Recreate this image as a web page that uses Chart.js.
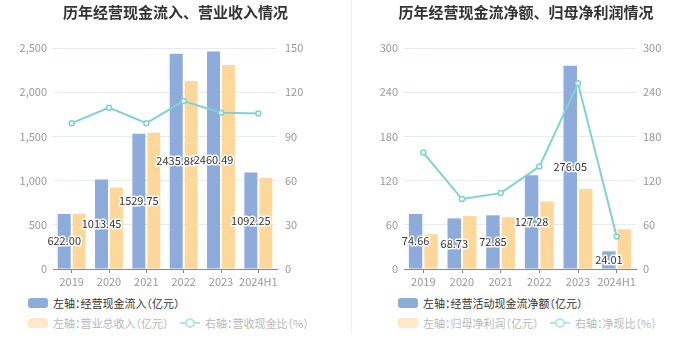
<!DOCTYPE html>
<html>
<head>
<meta charset="utf-8">
<script src="https://cdn.jsdelivr.net/npm/chart.js@4.4.1/dist/chart.umd.min.js"></script>
<style>
    body { margin: 0; background: #fff; font-family: 'Noto Sans CJK SC', 'Noto Sans', sans-serif; }
    #wrap { position: relative; width: 700px; height: 359px; overflow: hidden; }
    canvas { position: absolute; top: 0; }
    #c1 { left: 0; }
    #c2 { left: 352px; }
    .divider { position: absolute; left: 351px; top: 0; width: 1px; height: 333px; background: #eeeeee; }
    .lg { position: absolute; height: 14px; line-height: 14px; font-size: 11px; color: #333; white-space: nowrap; font-feature-settings: "halt"; }
    .lg.off { color: #b8b8b8; }
    .sw { position: absolute; width: 20px; height: 10px; border-radius: 3px; }
    .ln { position: absolute; width: 20px; height: 2px; }
    .dot { position: absolute; width: 6px; height: 6px; border-radius: 50%; background: #fff; border: 2px solid; }
</style>
</head>
<body>
<div id="wrap">
    <canvas id="c1" width="351" height="295"></canvas>
    <canvas id="c2" width="348" height="295"></canvas>
    <div class="divider"></div>
    <div id="legends"></div>
</div>
<script>
const years = ['2019', '2020', '2021', '2022', '2023', '2024H1'];

// 左图
const cashInflow = [622.00, 1013.45, 1529.75, 2435.88, 2460.49, 1092.25];
const revenue = [625, 921, 1540, 2128, 2309, 1030];
const cashRevRatio = [99, 109.5, 99, 114, 106, 105.5];

// 右图
const netCashFlow = [74.66, 68.73, 72.85, 127.28, 276.05, 24.01];
const netProfit = [47.2, 72, 70.3, 91.5, 108.7, 54];
const netCashRatio = [158, 95, 103, 139, 252, 44];

const BLUE = '#8dabdb';
const ORANGE = '#ffd899';
const TEAL = '#7dd3d3';

Chart.defaults.font.family = "'Noto Sans CJK SC', 'Noto Sans', sans-serif";
Chart.defaults.font.size = 11;
Chart.defaults.color = '#999';

// 蓝色柱子中间的数值
const barLabels = {
    id: 'barLabels',
    afterDatasetsDraw(chart) {
        const meta = chart.getDatasetMeta(1);
        const c = chart.ctx;
        c.save();
        c.font = "11px 'Noto Sans CJK SC', 'Noto Sans', sans-serif";
        c.textAlign = 'center';
        c.textBaseline = 'middle';
        c.lineJoin = 'round';
        meta.data.forEach((bar, i) => {
            const txt = chart.data.datasets[1].data[i].toFixed(2);
            const y = (bar.y + bar.base) / 2;
            c.lineWidth = 3;
            c.strokeStyle = '#fff';
            c.strokeText(txt, bar.x, y);
            c.fillStyle = '#333';
            c.fillText(txt, bar.x, y);
        });
        c.restore();
    }
};

function makeChart(id, title, bars1, bars2, line, yMax, yStep, y1Max, y1Step, dims) {
    return new Chart(document.getElementById(id), {
        type: 'bar',
        data: {
            labels: years,
            datasets: [
                {
                    type: 'line',
                    data: line,
                    yAxisID: 'y1',
                    borderColor: TEAL,
                    borderWidth: 2,
                    pointRadius: 2.5,
                    pointBorderWidth: 1.5,
                    pointBackgroundColor: '#fff',
                    pointBorderColor: TEAL,
                    tension: 0
                },
                {
                    data: bars1,
                    yAxisID: 'y',
                    backgroundColor: BLUE,
                    categoryPercentage: 0.8,
                    barPercentage: 0.87
                },
                {
                    data: bars2,
                    yAxisID: 'y',
                    backgroundColor: ORANGE,
                    categoryPercentage: 0.8,
                    barPercentage: 0.87
                }
            ]
        },
        options: {
            responsive: false,
            animation: false,
            layout: { padding: 0 },
            plugins: {
                legend: { display: false },
                tooltip: { enabled: false },
                title: {
                    display: true,
                    text: title,
                    color: '#333',
                    font: { size: 15, weight: 'bold' },
                    padding: { top: 3, bottom: 27 }
                }
            },
            scales: {
                x: {
                    grid: { display: true, drawOnChartArea: false, drawTicks: true, tickLength: 4, color: '#888', offset: false },
                    border: { display: true, color: '#888' },
                    ticks: { padding: 2, color: '#999', maxRotation: 0, minRotation: 0, autoSkip: false },
                    afterFit: (s) => { s.height = 26; }
                },
                y: {
                    position: 'left',
                    min: 0,
                    max: yMax,
                    ticks: { stepSize: yStep, padding: dims.padL, color: '#999' },
                    grid: { color: '#e6ebf5', drawTicks: false },
                    border: { display: false },
                    afterFit: (s) => { s.width = dims.wL; }
                },
                y1: {
                    position: 'right',
                    min: 0,
                    max: y1Max,
                    ticks: { stepSize: y1Step, padding: dims.padR, color: '#999' },
                    grid: { drawOnChartArea: false, drawTicks: false },
                    border: { display: false },
                    afterFit: (s) => { s.width = dims.wR; }
                }
            }
        },
        plugins: [barLabels]
    });
}

makeChart('c1', '历年经营现金流入、营业收入情况', cashInflow, revenue, cashRevRatio,
    2500, 500, 150, 30, { wL: 53, padL: 6, wR: 74, padR: 8 });
makeChart('c2', '历年经营现金流净额、归母净利润情况', netCashFlow, netProfit, netCashRatio,
    300, 60, 300, 60, { wL: 52, padL: 6, wR: 64, padR: 7 });

// 自定义图例
const legendItems = [
    { kind: 'box', x: 28, y: 303, color: BLUE, text: '左轴：经营现金流入（亿元）', off: false },
    { kind: 'box', x: 28, y: 323, color: '#fee8c8', text: '左轴：营业总收入（亿元）', off: true },
    { kind: 'line', x: 180, y: 323, color: '#b3e7e7', text: '右轴：营收现金比（%）', off: true },
    { kind: 'box', x: 398, y: 303, color: BLUE, text: '左轴：经营活动现金流净额（亿元）', off: false },
    { kind: 'box', x: 398, y: 323, color: '#fee8c8', text: '左轴：归母净利润（亿元）', off: true },
    { kind: 'line', x: 550, y: 323, color: '#b3e7e7', text: '右轴：净现比（%）', off: true }
];

const holder = document.getElementById('legends');
legendItems.forEach((it) => {
    if (it.kind === 'box') {
        const sw = document.createElement('div');
        sw.className = 'sw';
        sw.style.left = it.x + 'px';
        sw.style.top = (it.y - 5) + 'px';
        sw.style.background = it.color;
        holder.appendChild(sw);
    } else {
        const ln = document.createElement('div');
        ln.className = 'ln';
        ln.style.left = it.x + 'px';
        ln.style.top = (it.y - 1) + 'px';
        ln.style.background = it.color;
        holder.appendChild(ln);
        const dot = document.createElement('div');
        dot.className = 'dot';
        dot.style.left = (it.x + 5) + 'px';
        dot.style.top = (it.y - 5) + 'px';
        dot.style.borderColor = it.color;
        holder.appendChild(dot);
    }
    const label = document.createElement('div');
    label.className = 'lg' + (it.off ? ' off' : '');
    label.style.left = (it.x + 25) + 'px';
    label.style.top = (it.y - 7) + 'px';
    label.innerText = it.text;
    holder.appendChild(label);
});
</script>
</body>
</html>
